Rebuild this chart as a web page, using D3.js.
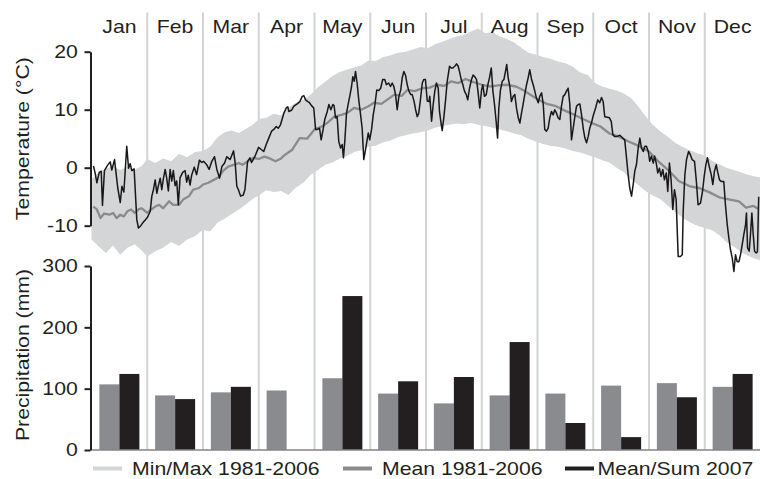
<!DOCTYPE html>
<html><head><meta charset="utf-8">
<script src="https://cdn.jsdelivr.net/npm/d3@7"></script>
<style>html,body{margin:0;padding:0;background:#fff}svg{display:block}</style>
</head><body>
<svg id="c" width="760" height="479"></svg>
<script>
// ---------- data ----------
const months = ["Jan","Feb","Mar","Apr","May","Jun","Jul","Aug","Sep","Oct","Nov","Dec"];
const monthStartDays = [0,31,59,90,120,151,181,212,243,273,304,334,365];
const tempTicks = [-10,0,10,20];
const precipTicks = [0,100,200,300];
const legendLabels = ["Min/Max 1981-2006","Mean 1981-2006","Mean/Sum 2007"];

const precipMean = [107,89,94,97,117,92,76,89,92,105,109,103];
const precip2007 = [124,83,103,0,251,112,119,176,44,21,86,124];

const bandDays = [0,4,8,12,16,20,24,28,31,35,39,43,47,51,55,59,63,67,71,75,79,83,87,90,
  94,98,102,106,110,114,118,122,126,130,134,138,142,146,150,154,158,162,166,170,174,178,
  182,186,190,194,198,202,206,210,214,218,222,226,230,234,238,242,246,250,254,258,262,266,
  270,274,278,282,286,290,294,298,302,306,310,314,318,322,326,330,334,338,342,346,350,354,
  358,362,365];
const bandMax = [-2.0,-0.8,-0.2,0.3,-0.4,0.2,-0.3,0.3,1.5,0.8,1.6,1.1,2.4,1.8,2.7,2.9,3.6,5.2,6.1,6.4,6.0,6.7,7.5,8.4,
  8.6,9.3,9.0,10.4,11.2,11.7,12.6,13.9,14.8,15.8,16.5,16.9,17.3,17.6,18.5,18.4,19.1,19.4,19.8,20.0,20.4,20.8,
  20.6,21.3,21.7,22.2,22.6,22.9,23.5,24.0,23.2,23.4,22.6,22.2,21.6,20.7,19.8,19.5,19.1,18.8,18.3,18.0,17.4,16.4,
  16.0,14.6,14.0,13.6,13.3,12.8,12.0,10.6,8.9,7.4,6.3,5.4,4.3,3.6,3.0,2.5,2.1,1.2,0.6,0.0,-0.4,-0.8,
  -1.2,-1.5,-1.7];
const bandMin = [-12.4,-13.6,-14.7,-13.4,-15.0,-13.8,-13.2,-14.3,-15.3,-14.4,-13.8,-12.8,-13.5,-12.4,-11.8,-10.7,-11.0,-9.5,-8.8,-8.0,-7.2,-6.3,-5.3,-4.8,
  -3.9,-4.2,-4.0,-4.7,-3.4,-2.6,-1.2,-0.4,0.5,0.9,1.6,2.0,2.7,3.0,3.6,3.8,4.4,4.7,5.3,5.6,5.9,6.1,
  6.4,6.9,7.2,7.4,7.6,7.5,7.7,7.4,7.2,6.9,6.6,6.3,5.9,5.6,5.0,4.5,4.1,3.8,3.6,3.3,2.9,2.6,
  2.2,1.8,1.3,0.9,0.0,-0.8,-2.0,-3.0,-4.0,-4.8,-5.4,-6.5,-7.6,-8.6,-9.4,-10.0,-10.4,-10.8,-11.6,-12.8,-13.6,-14.5,
  -15.2,-15.7,-16.0];

const meanDays = [1,3,5,7,10,12,14,16,18,20,22,24,26,28,31,33,35,37,39,42,44,47,49,52,54,57,59,62,65,68,70,73,76,79,81,84,87,90,
  93,96,99,102,104,108,112,116,120,124,127,131,135,138,142,146,150,153,157,160,164,168,171,175,179,183,187,191,195,199,
  203,207,212,217,221,226,231,235,240,243,248,253,258,263,268,273,277,282,287,292,298,304,309,315,320,326,331,337,342,
  348,353,357,361,364];
const meanTemp = [-6.7,-7.2,-8.7,-7.9,-8.1,-7.8,-8.7,-8.1,-8.4,-7.5,-7.2,-7.8,-7.2,-7.0,-7.8,-7.2,-6.7,-6.4,-7.0,-5.8,-6.4,-6.4,-5.5,-4.9,-3.8,-3.5,-2.9,-2.6,-2.1,-1.6,-0.6,0.2,0.5,0.8,0.5,1.1,1.7,1.5,
  1.9,1.6,1.1,1.6,2.2,3.1,5.1,5.0,6.6,7.1,7.7,8.8,9.1,9.4,10.3,10.0,10.6,11.2,11.0,11.7,12.6,12.4,13.4,13.2,13.7,13.8,14.3,14.1,14.9,14.6,
  15.3,14.8,14.3,14.0,14.2,14.3,14.0,13.4,12.4,11.8,11.0,10.6,9.8,9.1,8.3,7.6,7.1,5.9,5.4,4.6,3.8,2.8,1.1,-0.6,-2.3,-3.2,-3.5,-4.3,-5.1,
  -5.5,-5.8,-6.9,-6.6,-7.1];

const days2007 = [1.1,2.0,3.0,4.3,5.4,6.1,7.2,8.9,10.4,11.3,12.8,14.6,16.0,16.9,18.0,19.6,20.6,21.5,22.4,23.7,25.2,26.1,27.4,28.5,29.9,31.2,
  32.5,33.3,34.1,35.0,35.8,36.6,37.5,38.3,39.1,40.0,40.8,41.6,42.5,43.3,44.1,45.0,45.8,46.6,47.5,48.8,50.0,50.8,51.6,52.5,53.3,54.6,55.8,57.2,58.4,
  59.3,61.1,62.4,63.9,65.4,66.7,68.2,69.5,71.0,72.2,74.1,76.0,76.9,77.8,78.7,79.9,81.4,82.3,83.8,85.1,86.0,86.9,87.8,89.9,
  91.5,92.7,94.0,95.4,96.9,98.1,99.4,100.5,101.7,103.5,104.8,105.6,106.2,107.6,108.9,110.7,112.1,113.4,114.3,115.2,116.4,117.3,118.4,119.6,
  120.6,121.7,122.8,123.7,124.8,125.7,127.1,128.0,129.1,130.2,130.9,131.7,132.6,133.5,134.5,135.4,136.1,136.9,137.8,138.7,139.6,140.6,141.3,142.1,142.8,143.7,144.6,145.4,146.5,147.4,148.7,149.9,150.7,
  151.7,152.6,153.4,154.5,155.6,156.6,157.7,158.8,159.7,160.9,161.9,162.8,163.7,164.6,165.5,166.4,167.4,168.2,169.1,170.0,170.9,171.8,172.8,173.6,174.6,175.4,176.3,177.1,178.0,179.0,179.8,180.7,
  181.7,182.6,183.1,184.1,185.0,185.9,186.8,187.8,188.5,189.5,190.0,190.9,191.8,192.8,194.1,195.0,195.9,197.0,198.0,198.9,199.6,200.6,201.5,202.4,203.4,204.2,205.2,206.3,207.2,208.1,209.1,210.0,210.9,211.9,
  212.6,213.5,214.5,215.4,216.3,217.3,218.2,219.1,220.0,220.8,221.5,222.4,223.4,224.3,225.2,225.9,226.7,227.6,228.5,229.5,230.4,231.3,232.3,233.2,234.1,235.0,235.9,236.9,237.8,238.7,239.7,240.6,241.5,242.4,
  243.4,244.2,245.2,246.1,246.9,247.8,248.7,249.6,250.5,251.4,252.3,253.2,254.1,255.0,255.9,256.8,257.7,258.6,259.5,260.4,261.3,262.2,263.1,264.0,264.9,265.8,266.7,267.6,268.5,269.4,270.3,271.1,272.1,
  273.0,274.3,275.5,276.6,277.6,278.5,279.4,280.8,282.0,283.0,283.9,284.8,286.3,287.8,289.1,290.5,291.5,292.4,293.3,294.3,295.2,296.1,297.0,298.0,298.9,299.8,300.8,301.7,302.6,303.6,
  304.4,305.3,306.3,307.0,307.9,308.7,309.6,310.5,311.4,312.3,313.3,314.1,315.0,315.9,316.8,317.7,318.6,319.7,320.9,321.9,322.4,323.3,324.2,325.3,326.3,327.2,328.5,329.5,330.4,331.7,332.8,333.7,
  334.6,335.5,336.5,337.6,338.5,339.4,340.4,341.3,342.2,343.3,344.6,345.5,346.5,347.4,348.3,349.3,350.2,351.1,352.0,353.0,353.9,354.8,355.7,356.7,357.2,357.8,358.7,359.4,360.2,360.9,361.7,362.6,363.3,364.0];
const temp2007 = [0.3,-0.9,-2.6,-0.8,-0.6,-6.5,-0.5,0.4,1.0,-0.4,1.4,-3.5,-6.0,-3.2,-4.2,3.7,-0.1,0.7,-0.5,-0.2,-9.0,-10.4,-10.0,-9.5,-9.0,-8.5,
  -7.5,-4.9,-3.8,-2.1,-4.4,-3.1,-1.8,-3.8,-1.9,-0.3,-1.9,-4.0,-0.3,-2.3,-0.5,-3.1,-2.3,-6.4,-1.7,-0.8,-0.5,-2.5,-1.3,-3.0,-1.3,0.1,-1.2,1.3,0.9,
  1.1,0.5,-0.3,1.1,1.9,-0.3,-1.8,0.2,0.8,1.9,1.4,2.9,0.8,-3.2,-3.8,-4.9,-4.7,-3.8,1.1,1.7,0.9,1.4,1.9,3.5,
  3.1,2.8,4.0,5.1,6.3,6.6,7.1,6.8,7.4,9.4,10.3,10.5,9.7,9.9,10.6,11.0,11.4,12.3,12.4,11.7,11.4,11.2,10.7,10.3,
  6.6,6.6,6.8,4.8,6.6,8.3,9.7,10.9,10.0,10.9,10.7,8.6,8.8,4.5,3.4,4.0,1.7,4.8,9.4,10.9,12.3,14.0,15.7,14.9,16.6,14.6,11.7,9.7,6.8,1.4,3.7,6.0,4.8,
  6.6,9.1,10.6,13.4,13.3,13.7,15.2,15.2,14.3,14.6,14.0,14.6,14.0,12.6,10.0,12.3,13.4,15.5,16.6,15.9,14.3,13.2,12.6,12.6,11.4,10.0,8.8,9.4,11.7,14.6,15.2,15.2,
  11.5,11.4,12.3,8.0,10.9,13.2,14.6,13.7,9.7,7.4,6.4,8.6,11.4,14.9,17.5,17.2,17.2,17.5,17.9,17.5,16.6,15.2,14.3,13.2,12.6,11.7,13.7,15.2,16.0,15.7,15.2,12.9,10.3,13.4,
  14.3,12.3,12.6,14.3,15.5,17.2,13.2,10.9,8.0,5.1,10.3,13.4,14.9,15.2,16.6,17.8,15.5,14.0,11.4,12.3,12.6,10.3,8.6,7.7,9.4,10.9,12.6,14.3,15.5,16.9,15.2,14.3,13.2,12.0,
  11.2,12.3,12.9,10.9,6.6,6.3,6.8,8.6,9.7,9.1,10.0,9.4,8.6,8.3,10.6,12.3,12.6,13.2,13.7,10.9,4.8,6.8,8.8,10.6,10.9,11.0,9.1,6.8,5.1,4.3,5.4,6.8,7.8,
  9.0,10.3,11.7,11.2,12.1,11.4,8.8,8.7,8.6,8.0,5.7,5.4,5.4,5.6,5.2,4.8,1.7,-1.2,-3.5,-4.9,-2.9,-0.6,0.5,3.4,5.1,3.4,2.8,3.7,3.7,2.8,
  1.1,2.0,0.8,2.0,0.8,-0.9,-0.1,-1.5,-0.3,-2.1,-0.9,-4.1,0.8,-2.1,-7.2,-3.8,-5.5,-15.3,-15.3,-15.0,-7.5,-1.2,1.4,2.8,2.2,1.4,1.1,-2.4,-6.4,-6.1,-4.1,-1.5,
  0.5,1.7,0.2,-1.2,-2.9,-0.6,0.5,-0.9,-2.1,-2.4,-2.4,-6.4,-9.8,-12.1,-14.1,-15.6,-17.9,-15.0,-16.2,-16.2,-15.0,-13.3,-11.6,-9.8,-7.8,-13.8,-14.4,-11.6,-7.8,-11.3,-14.4,-14.7,-14.5,-5.0];

// ---------- drawing ----------
const FONT = "'Liberation Sans', Arial, Helvetica, sans-serif";
const FS = 18, SX = 1.18;
const INK = "#231f20";
const svg = d3.select("#c");

const xLeft = 91.5, monthW = 55.75;
const x = d3.scaleLinear().domain(monthStartDays).range(monthStartDays.map((d, i) => xLeft + i * monthW));
const yT = d3.scaleLinear().domain([-10, 20]).range([225.7, 51.7]);
const yP = d3.scaleLinear().domain([0, 300]).range([450, 266]);
const xm = d3.scaleBand().domain(months).range([xLeft, xLeft + 12 * monthW]).paddingInner(0.2825).paddingOuter(0.14125);
const xs = d3.scaleBand().domain(["mean", "y2007"]).range([0, xm.bandwidth()]);

function label(tx, ty, txt, anchor, rot) {
  svg.append("text")
    .attr("transform", `translate(${tx},${ty})` + (rot ? ` rotate(${rot})` : "") + ` scale(${SX},1)`)
    .attr("text-anchor", anchor)
    .attr("font-size", FS).attr("font-family", FONT).attr("fill", INK)
    .text(txt);
}

// month dividers
svg.append("g").selectAll("line").data(monthStartDays.slice(1, 12)).join("line")
  .attr("x1", d => x(d)).attr("x2", d => x(d))
  .attr("y1", 12.5).attr("y2", 450)
  .attr("stroke", "#d2d3d5").attr("stroke-width", 2);

// min/max band
const band = bandDays.map((d, i) => ({d, lo: bandMin[i], hi: bandMax[i]}));
svg.append("path").datum(band)
  .attr("fill", "#d4d5d7")
  .attr("d", d3.area().x(p => x(p.d)).y0(p => yT(p.lo)).y1(p => yT(p.hi)));

// mean line
svg.append("path").datum(meanDays.map((d, i) => [d, meanTemp[i]]))
  .attr("fill", "none").attr("stroke", "#8b8b8d").attr("stroke-width", 2.3).attr("stroke-linejoin", "round")
  .attr("d", d3.line().x(p => x(p[0])).y(p => yT(p[1])));

// 2007 line
svg.append("path").datum(days2007.map((d, i) => [d, temp2007[i]]))
  .attr("fill", "none").attr("stroke", "#1a1718").attr("stroke-width", 1.5).attr("stroke-linejoin", "round")
  .attr("d", d3.line().x(p => x(p[0])).y(p => yT(p[1])));

// precipitation bars
const bars = svg.append("g");
months.forEach((m, i) => {
  [["mean", precipMean[i], "#8a8b8e"], ["y2007", precip2007[i], INK]].forEach(([k, v, c]) => {
    if (v <= 0) return;
    bars.append("rect")
      .attr("x", xm(m) + xs(k)).attr("width", xs.bandwidth())
      .attr("y", yP(v)).attr("height", yP(0) - yP(v))
      .attr("fill", c);
  });
});
svg.append("line").attr("x1", xLeft).attr("x2", 760).attr("y1", yP(0)).attr("y2", yP(0))
  .attr("stroke", "#858588").attr("stroke-width", 1.5);

// axes
function styleAxis(g) {
  g.attr("font-size", null).attr("font-family", null);
  g.select(".domain").attr("stroke", INK).attr("stroke-width", 2);
  g.selectAll(".tick line").attr("stroke", INK).attr("stroke-width", 2);
  g.selectAll(".tick text")
    .attr("font-size", FS).attr("font-family", FONT).attr("fill", INK)
    .attr("transform", `scale(${SX},1)`);
}
svg.append("g").attr("transform", "translate(90.5,0)")
  .call(d3.axisLeft(yT).tickValues(tempTicks).tickFormat(d => String(d)).tickSize(6).tickPadding(4.8).tickSizeOuter(0))
  .call(styleAxis);
svg.append("g").attr("transform", "translate(90.5,0)")
  .call(d3.axisLeft(yP).tickValues(precipTicks).tickFormat(d => String(d)).tickSize(6).tickPadding(4.8).tickSizeOuter(0))
  .call(styleAxis);

// month labels
months.forEach(m => label(xm(m) + xm.bandwidth() / 2, 32.7, m, "middle"));

// axis titles
label(29, 138.7, "Temperature (°C)", "middle", -90);
label(29, 355, "Precipitation (mm)", "middle", -90);

// legend
const legendColors = ["#d4d5d7", "#8b8b8d", INK];
const legendSwatchX = [93, 343, 565];
const legendTextX = [132, 382, 597.5];
legendLabels.forEach((t, i) => {
  svg.append("line").attr("x1", legendSwatchX[i]).attr("x2", legendSwatchX[i] + 29)
    .attr("y1", 468.5).attr("y2", 468.5)
    .attr("stroke", legendColors[i]).attr("stroke-width", 4);
  label(legendTextX[i], 475.2, t, "start");
});
</script>
</body></html>
